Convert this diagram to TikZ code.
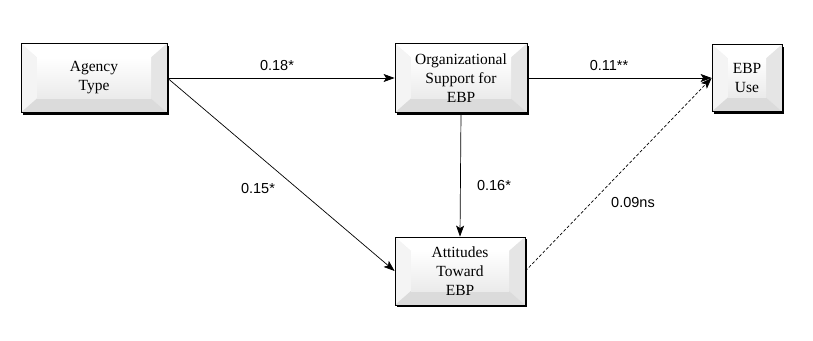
\documentclass[tikz,border=0pt]{standalone}
\usepackage{fontspec}
\setmainfont{Liberation Serif}
\newfontfamily\labfont{Liberation Sans}
\usetikzlibrary{arrows.meta,shadows}
\tikzset{
  bevelbox/.style={rectangle, draw=black, line width=0.8pt, align=center,
    font=\fontsize{15.5}{19}\selectfont, inner sep=0pt,
    drop shadow={shadow xshift=2pt, shadow yshift=-2pt, fill=black, opacity=1},
    path picture={
      \path (path picture bounding box.north west) coordinate (bNW)
            (path picture bounding box.north east) coordinate (bNE)
            (path picture bounding box.south west) coordinate (bSW)
            (path picture bounding box.south east) coordinate (bSE);
      \fill[gray!12] (bNW) rectangle (bSE);
      \fill[white] (bNW) -- (bNE) -- ([xshift=-16pt,yshift=-14pt]bNE) -- ([xshift=16pt,yshift=-14pt]bNW) -- cycle;
      \fill[gray!9] (bNW) -- ([xshift=16pt,yshift=-14pt]bNW) -- ([xshift=16pt,yshift=14pt]bSW) -- (bSW) -- cycle;
      \fill[gray!20] (bNE) -- ([xshift=-16pt,yshift=-14pt]bNE) -- ([xshift=-16pt,yshift=14pt]bSE) -- (bSE) -- cycle;
      \fill[gray!28] (bSW) -- ([xshift=16pt,yshift=14pt]bSW) -- ([xshift=-16pt,yshift=14pt]bSE) -- (bSE) -- cycle;
      \shade[top color=white, bottom color=gray!16] ([xshift=16pt,yshift=-14pt]bNW) rectangle ([xshift=-16pt,yshift=14pt]bSE);
    }},
  lab/.style={font=\labfont\fontsize{14.5}{16}\selectfont, inner sep=0pt},
  arr/.style={-{Stealth[length=11pt,width=8pt,inset=2.5pt]}, line width=0.7pt},
}
\begin{document}
\begin{tikzpicture}[x=1pt,y=-1pt]
\useasboundingbox (0,0) rectangle (813,340);
\node[bevelbox, minimum width=146pt, minimum height=69pt] (agency) at (94,78) {Agency\\Type};
\node[bevelbox, minimum width=132pt, minimum height=69pt] (org) at (461,78) {Organizational\\Support for\\EBP};
\node[bevelbox, minimum width=70pt, minimum height=67pt] (use) at (747,78) {EBP\\Use};
\node[bevelbox, minimum width=130pt, minimum height=68pt] (att) at (460,271) {Attitudes\\Toward\\EBP};

\draw[arr] (agency.east) -- (org.west);
\draw[arr] (org.east) -- (use.west);
\draw[arr] (org.south) -- (att.north);
\draw[arr] (agency.east) -- (att.west);
\draw[arr, dashed, dash pattern=on 3pt off 2pt] (att.east) -- (use.west);

\node[lab] (l1) at (277,66) {0.18*};
\node[lab] (l2) at (609,66) {0.11**};
\node[lab] (l3) at (494,186) {0.16*};
\node[lab] (l4) at (258,189) {0.15*};
\node[lab] (l5) at (633,203) {0.09ns};
\end{tikzpicture}
\end{document}
